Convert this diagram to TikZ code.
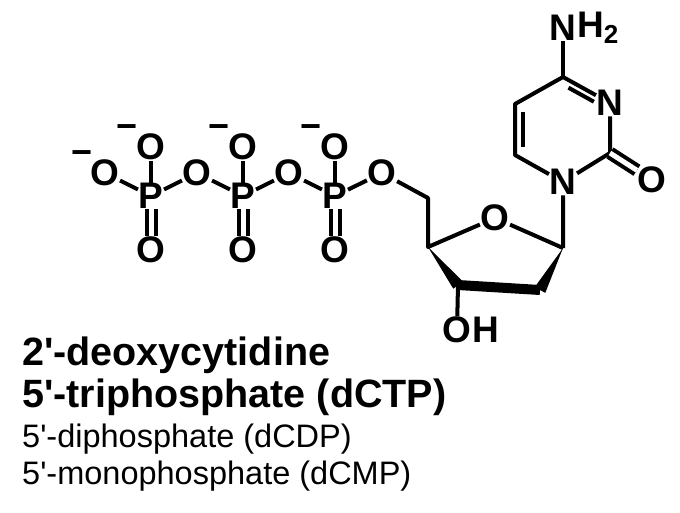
\documentclass[tikz,border=0pt]{standalone}
\usepackage{fontspec}
\setmainfont{Liberation Sans}
\usetikzlibrary{calc}
\begin{document}
\begin{tikzpicture}[x=1pt,y=-1pt,
  atom/.style={font=\bfseries\fontsize{37}{37}\selectfont, inner sep=0.5pt},
  charge/.style={font=\bfseries\fontsize{36}{36}\selectfont, inner sep=0pt},
  bond/.style={line width=4pt},
  dbl/.style={line width=4pt, double, double distance=5pt},
  title/.style={font=\bfseries\fontsize{39.5}{39.5}\selectfont, anchor=base west, inner sep=0pt},
  sub/.style={font=\fontsize{32.5}{32.5}\selectfont, anchor=base west, inner sep=0pt},
]
\useasboundingbox (0,0) rectangle (680,512);

% phosphate chain
\node (o1) [atom] at (105,173) {O};
\node (m1) [charge] at (82,158) {−};
\foreach \i/\x in {1/151,2/243,3/335} {
  \node (p\i) [atom] at (\x,196) {P};
  \node (ot\i) [atom] at (\x,147) {O};
  \node (ob\i) [atom] at (\x,250) {O};
  \node (mt\i) [charge] at (\x-24,132) {−};
  \draw[bond] (p\i) -- (ot\i);
  \draw[dbl] (p\i) -- (ob\i);
}
\node (o2) [atom] at (197,173) {O};
\node (o3) [atom] at (289,173) {O};
\node (o4) [atom] at (382,173) {O};
\draw[bond] (o1) -- (p1) -- (o2) -- (p2) -- (o3) -- (p3) -- (o4);

% sugar
\coordinate (c5s) at (428,198);
\coordinate (c4s) at (428,247);
\node (or) [atom] at (495,218) {O};
\coordinate (c1s) at (563,248);
\coordinate (c2s) at (540,290);
\coordinate (c3s) at (458,285);
\node (oh) [atom] at (457,330) {O};
\node (hh) [atom, anchor=west, inner sep=0pt] at (oh.east) {H};
\draw[bond, line join=round] (o4) -- (c5s) -- (c4s) -- (or) -- (c1s);
\draw[line width=10pt] (c3s) -- (c2s);
\fill (c4s) -- ($(c3s)!6pt!90:(c4s)$) -- ($(c3s)!6pt!-90:(c4s)$) -- cycle;
\fill (c1s) -- ($(c2s)!6pt!90:(c1s)$) -- ($(c2s)!6pt!-90:(c1s)$) -- cycle;
\draw[bond] (c3s) -- (oh);

% base
\node (n1) [atom] at (563,182) {N};
\coordinate (c2b) at (610,153);
\node (o2b) [atom] at (652,180) {O};
\node (n3) [atom] at (610,103) {N};
\coordinate (c4b) at (563,77);
\node (n4) [atom] at (563,28) {N};
\node (h4) [atom, anchor=west, inner sep=0pt] at (n4.east) {H\raisebox{-0.3ex}{\fontsize{26}{26}\selectfont 2}};
\coordinate (c5b) at (515,104);
\coordinate (c6b) at (515,155);
\draw[bond, line join=round] (c1s) -- (n1) -- (c2b) -- (n3) -- (c4b) -- (c5b) -- (c6b) -- (n1);
\draw[bond] (c4b) -- (n4);
\draw[dbl] (c2b) -- (o2b);
\draw[bond] ($(c4b)!0.18!(n3)+(-3,6)$) -- ($(c4b)!0.72!(n3)+(-3,6)$);
\draw[bond] ($(c5b)!0.15!(c6b)+(8,0)$) -- ($(c5b)!0.85!(c6b)+(8,0)$);

% names
\node (t1) [title] at (22,365) {2\textquotesingle-deoxycytidine};
\node (t2) [title] at (22,407) {5\textquotesingle-triphosphate (dCTP)};
\node (t3) [sub] at (22,447) {5\textquotesingle-diphosphate (dCDP)};
\node (t4) [sub] at (22,484) {5\textquotesingle-monophosphate (dCMP)};
\end{tikzpicture}
\end{document}
